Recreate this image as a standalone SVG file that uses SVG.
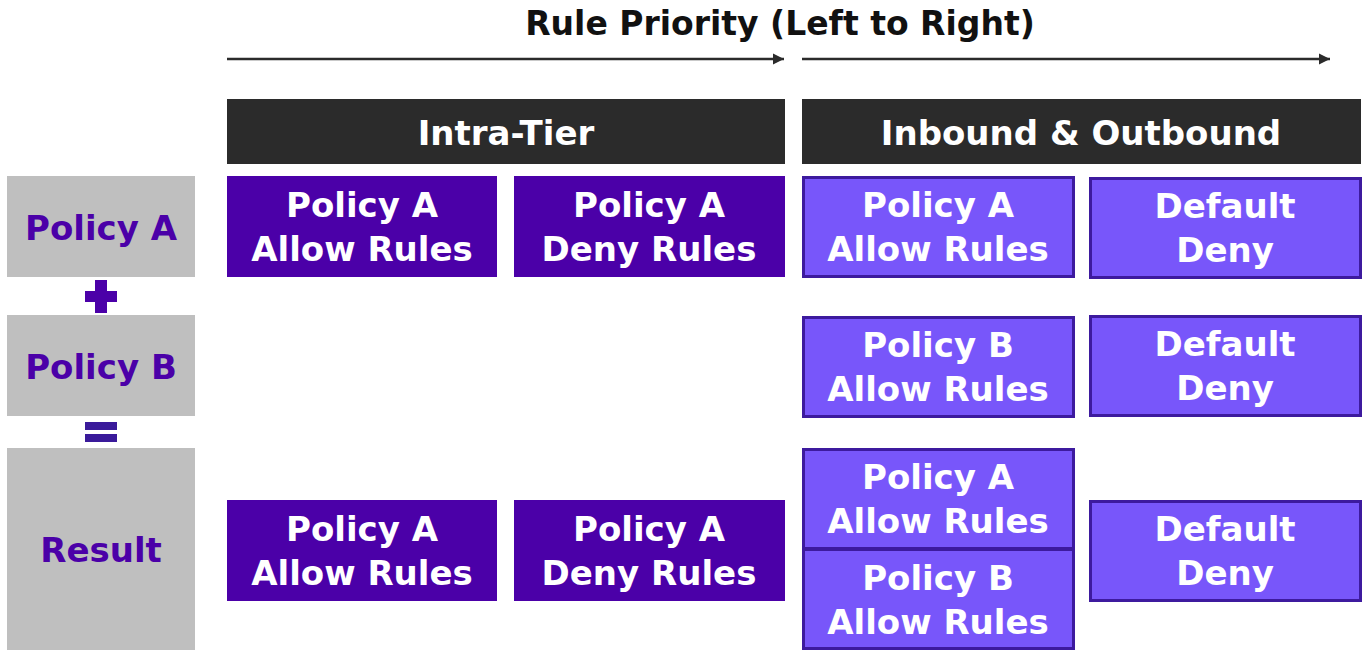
<svg xmlns="http://www.w3.org/2000/svg" width="1370" height="656" viewBox="0 0 1370 656">
<style>
text{font-family:"DejaVu Sans","Liberation Sans",sans-serif;font-weight:bold;text-anchor:middle}
.t{font-size:34px;fill:#ffffff}
.g{fill:#bfbfbf}
.gt{font-size:34px;fill:#4b00a8}
.hdr{fill:#2b2b2b}
.dk{fill:#4b00a8}
.lt{fill:#7856fa;stroke:#3d1a9e;stroke-width:3}
.op{fill:#4b00a8}
</style>
<defs>
<marker id="ah" markerWidth="12" markerHeight="12" refX="11" refY="6" orient="auto" markerUnits="userSpaceOnUse">
<path d="M0,0.5 L11,6 L0,11.5 Z" fill="#2b2b2b"/>
</marker>
</defs>
<rect width="1370" height="656" fill="#ffffff"/>
<text x="780" y="35" style="font-size:33px;fill:#111111">Rule Priority (Left to Right)</text>
<g id="connectors">
<line x1="227" y1="59" x2="784" y2="59" stroke="#2b2b2b" stroke-width="2.5" marker-end="url(#ah)"/>
<line x1="802" y1="59" x2="1330" y2="59" stroke="#2b2b2b" stroke-width="2.5" marker-end="url(#ah)"/>
</g>
<g id="hdr-intra"><rect class="hdr" x="227" y="99" width="558" height="65"/><text class="t" x="506" y="145">Intra-Tier</text></g>
<g id="hdr-inout"><rect class="hdr" x="802" y="99" width="559" height="65"/><text class="t" x="1081" y="145">Inbound &amp; Outbound</text></g>
<g id="lbl-a"><rect class="g" x="7" y="176" width="188" height="101"/><text class="gt" x="101" y="240">Policy A</text></g>
<g id="lbl-b"><rect class="g" x="7" y="315" width="188" height="101"/><text class="gt" x="101" y="379">Policy B</text></g>
<g id="lbl-r"><rect class="g" x="7" y="448" width="188" height="202"/><text class="gt" x="101" y="562">Result</text></g>
<g id="plus"><rect class="op" x="85" y="291" width="32" height="11"/><rect class="op" x="95" y="280" width="12" height="33"/></g>
<g id="equals"><rect x="85" y="422" width="32" height="8" fill="#3a1a9a"/><rect x="85" y="434" width="32" height="8" fill="#3a1a9a"/></g>
<g id="a-allow"><rect class="dk" x="227" y="176" width="270" height="101"/><text class="t" x="362" y="217">Policy A</text><text class="t" x="362" y="261">Allow Rules</text></g>
<g id="a-deny"><rect class="dk" x="514" y="176" width="271" height="101"/><text class="t" x="649" y="217">Policy A</text><text class="t" x="649" y="261">Deny Rules</text></g>
<g id="a-io-allow"><rect class="lt" x="803.5" y="177.5" width="270" height="99"/><text class="t" x="938" y="217">Policy A</text><text class="t" x="938" y="261">Allow Rules</text></g>
<g id="a-default"><rect class="lt" x="1090.5" y="178.5" width="270" height="99"/><text class="t" x="1225" y="218">Default</text><text class="t" x="1225" y="262">Deny</text></g>
<g id="b-io-allow"><rect class="lt" x="803.5" y="317.5" width="270" height="99"/><text class="t" x="938" y="357">Policy B</text><text class="t" x="938" y="401">Allow Rules</text></g>
<g id="b-default"><rect class="lt" x="1090.5" y="316.5" width="270" height="99"/><text class="t" x="1225" y="356">Default</text><text class="t" x="1225" y="400">Deny</text></g>
<g id="r-allow"><rect class="dk" x="227" y="500" width="270" height="101"/><text class="t" x="362" y="541">Policy A</text><text class="t" x="362" y="585">Allow Rules</text></g>
<g id="r-deny"><rect class="dk" x="514" y="500" width="271" height="101"/><text class="t" x="649" y="541">Policy A</text><text class="t" x="649" y="585">Deny Rules</text></g>
<g id="r-a-allow"><rect class="lt" x="803.5" y="449.5" width="270" height="99"/><text class="t" x="938" y="489">Policy A</text><text class="t" x="938" y="533">Allow Rules</text></g>
<g id="r-b-allow"><rect class="lt" x="803.5" y="549.5" width="270" height="99"/><text class="t" x="938" y="590">Policy B</text><text class="t" x="938" y="634">Allow Rules</text></g>
<g id="r-default"><rect class="lt" x="1090.5" y="501.5" width="270" height="99"/><text class="t" x="1225" y="541">Default</text><text class="t" x="1225" y="585">Deny</text></g>
</svg>
